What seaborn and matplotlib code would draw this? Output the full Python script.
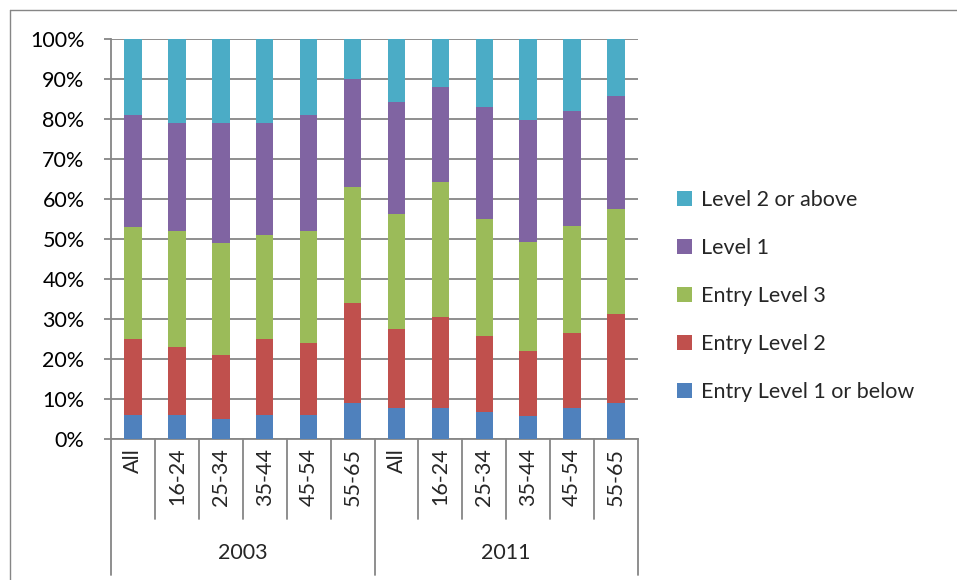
import matplotlib.pyplot as plt
import matplotlib.transforms as mtransforms
from matplotlib.lines import Line2D
from matplotlib.patches import Patch
from matplotlib.ticker import PercentFormatter
import pandas as pd
import seaborn as sns

years = ["2003", "2011"]
age_groups = ["All", "16-24", "25-34", "35-44", "45-54", "55-65"]
levels = ["Entry Level 1 or below", "Entry Level 2", "Entry Level 3",
          "Level 1", "Level 2 or above"]
colors = ["#4F81BD", "#C0504D", "#9BBB59", "#8064A2", "#4BACC6"]

# share of each level, in %, per bar (2003 then 2011, age groups in order)
entry1 = [6, 6, 5, 6, 6, 9, 7.8, 7.8, 6.8, 5.8, 7.8, 8.9]
entry2 = [19, 17, 16, 19, 18, 25, 19.6, 22.7, 19.0, 16.3, 18.7, 22.3]
entry3 = [28, 29, 28, 26, 28, 29, 28.9, 33.8, 29.1, 27.2, 26.8, 26.3]
level1 = [28, 27, 30, 28, 29, 27, 27.9, 23.6, 28.0, 30.4, 28.8, 28.2]
level2 = [19, 21, 21, 21, 19, 10, 15.8, 12.1, 17.1, 20.3, 17.9, 14.3]

bar_ids = [f"{y} {a}" for y in years for a in age_groups]
df = pd.DataFrame({
    "bar": bar_ids,
    levels[0]: entry1, levels[1]: entry2, levels[2]: entry3,
    levels[3]: level1, levels[4]: level2,
})
cum = df[levels].cumsum(axis=1) / 100.0
cum["bar"] = df["bar"]
long = cum.melt(id_vars="bar", var_name="level", value_name="top")

sns.set_theme(style="white")
plt.rcParams["font.family"] = ["Lato", "DejaVu Sans"]
grey = "#868686"
fs = 15.5

fig = plt.figure(figsize=(9.57, 5.8), dpi=100)
ax = fig.add_axes([111 / 957, 1 - 439 / 580, 527 / 957, 400 / 580])

# stacked bars: draw cumulative tops from the highest layer down
for level, color in reversed(list(zip(levels, colors))):
    sns.barplot(data=long[long["level"] == level], x="bar", y="top",
                order=bar_ids, color=color, saturation=1, width=0.4,
                linewidth=0, ax=ax, zorder=3)

ax.set_ylim(0, 1)
ax.set_xlim(-0.5, len(bar_ids) - 0.5)
ax.set_yticks([i / 10 for i in range(11)])
ax.yaxis.set_major_formatter(PercentFormatter(1.0, decimals=0))
ax.yaxis.grid(True, color=grey, linewidth=1.3, zorder=0)
ax.set_axisbelow(True)
ax.set_xlabel("")
ax.set_ylabel("")
ax.set_xticks([])
for side in ["top", "right"]:
    ax.spines[side].set_visible(False)
for side in ["left", "bottom"]:
    ax.spines[side].set_color(grey)
    ax.spines[side].set_linewidth(1.3)
ax.tick_params(axis="y", left=True, length=5, width=1.3, color=grey,
               labelsize=fs, pad=14, labelcolor="black")

# multi-level category axis
trans = mtransforms.blended_transform_factory(ax.transData, ax.transAxes)
for i, a in enumerate(age_groups * len(years)):
    ax.text(i, -0.022, a, rotation=90, ha="center", va="top",
            fontsize=fs, transform=trans)
for b in range(len(bar_ids) + 1):
    bottom = -0.34 if b % len(age_groups) == 0 else -0.2
    ax.add_line(Line2D([b - 0.5, b - 0.5], [0, bottom], color=grey,
                       linewidth=1.3, transform=trans, clip_on=False))
for k, y in enumerate(years):
    ax.text(k * len(age_groups) + 2.5, -0.285, y, ha="center", va="center",
            fontsize=fs, transform=trans)

handles = [Patch(facecolor=c, edgecolor="none") for c in colors]
leg = fig.legend(handles[::-1], levels[::-1], loc="center left",
                 bbox_to_anchor=(658 / 957, 1 - 296 / 580), frameon=False,
                 fontsize=fs, handlelength=0.7, handleheight=0.7,
                 handletextpad=0.4, labelspacing=1.3)

# chart area border (only top and left edges fall inside the image)
fig.add_artist(Line2D([9.5 / 957, 1], [1 - 9.5 / 580, 1 - 9.5 / 580],
                      color=grey, linewidth=1, transform=fig.transFigure))
fig.add_artist(Line2D([9.5 / 957, 9.5 / 957], [0, 1 - 9.5 / 580],
                      color=grey, linewidth=1, transform=fig.transFigure))

fig.savefig("out.png", dpi=100, facecolor="white")
